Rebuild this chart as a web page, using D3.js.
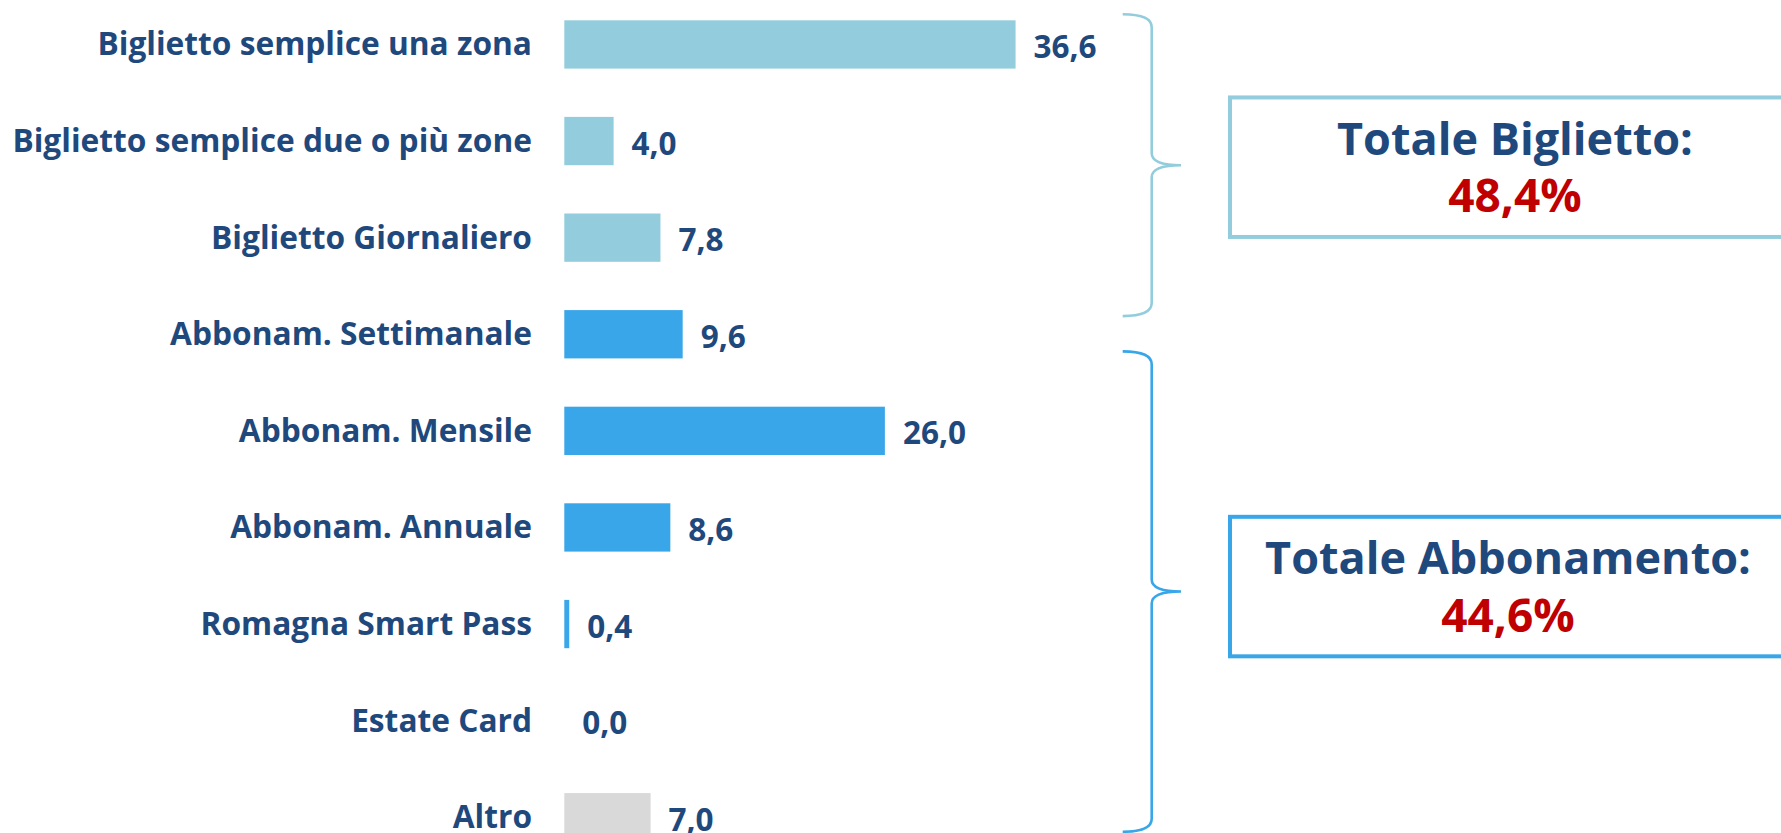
<!DOCTYPE html>
<html lang="it">
<head>
<meta charset="utf-8">
<script src="https://cdn.jsdelivr.net/npm/d3@7/dist/d3.min.js"></script>
<style>
  html, body { margin: 0; padding: 0; background: #ffffff; }
  svg { display: block; }
  text { font-family: "Open Sans", "DejaVu Sans", sans-serif; font-weight: 700; }
</style>
</head>
<body>
<svg id="chart" width="1781" height="833"></svg>
<script>
// Titoli di viaggio utilizzati (%)
const categories = [
  "Biglietto semplice una zona",
  "Biglietto semplice due o più zone",
  "Biglietto Giornaliero",
  "Abbonam. Settimanale",
  "Abbonam. Mensile",
  "Abbonam. Annuale",
  "Romagna Smart Pass",
  "Estate Card",
  "Altro"
];
const values = [36.6, 4.0, 7.8, 9.6, 26.0, 8.6, 0.4, 0.0, 7.0];
const groups = ["biglietto", "biglietto", "biglietto",
                "abbonamento", "abbonamento", "abbonamento", "abbonamento", "abbonamento",
                "altro"];

// Riquadri di riepilogo per gruppo
const totalGroups = ["biglietto", "abbonamento"];
const totalTitles = ["Totale Biglietto:", "Totale Abbonamento:"];

const colors = { biglietto: "#93CDDD", abbonamento: "#38A6E8", altro: "#D9D9D9" };
const textColor = "#1F497D";
const totalColor = "#C00000";

const it = d3.formatLocale({ decimal: ",", thousands: ".", grouping: [3], currency: ["€", ""] });
const fmt = it.format(".1f");

const svg = d3.select("#chart");

const x = d3.scaleLinear().domain([0, 40]).range([564.3, 564.3 + 40 * 12.33]);
const y = d3.scaleBand().domain(categories).range([-3.85, 865.55])
  .paddingInner(0.5).paddingOuter(0.25);
const bw = y.bandwidth();

const data = categories.map((c, i) => ({ cat: c, value: values[i], group: groups[i] }));

// Etichette di categoria
svg.append("g").selectAll("text").data(data).join("text")
  .attr("x", 532)
  .attr("y", d => y(d.cat) + bw / 2 + 11)
  .attr("text-anchor", "end")
  .attr("font-size", 31.7)
  .attr("fill", textColor)
  .text(d => d.cat);

// Barre
svg.append("g").selectAll("rect").data(data).join("rect")
  .attr("x", x(0))
  .attr("y", d => y(d.cat))
  .attr("width", d => x(d.value) - x(0))
  .attr("height", bw)
  .attr("fill", d => colors[d.group]);

// Valori
svg.append("g").selectAll("text").data(data).join("text")
  .attr("x", d => x(d.value) + 18)
  .attr("y", d => y(d.cat) + bw / 2 + 13.5)
  .attr("font-size", 31.5)
  .attr("fill", textColor)
  .text(d => fmt(d.value));

// Parentesi graffe per i gruppi
const braceX0 = 1122.7, braceXL = 1151.7, braceXT = 1181;
function bracePath(y0, y1) {
  const ym = (y0 + y1) / 2, r = 13, t = 12;
  const p = d3.path();
  p.moveTo(braceX0, y0);
  p.quadraticCurveTo(braceXL, y0, braceXL, y0 + r);
  p.lineTo(braceXL, ym - t);
  p.quadraticCurveTo(braceXL, ym, braceXT, ym);
  p.quadraticCurveTo(braceXL, ym, braceXL, ym + t);
  p.lineTo(braceXL, y1 - r);
  p.quadraticCurveTo(braceXL, y1, braceX0, y1);
  return p.toString();
}
const braceSpans = [
  [y(categories[0]) - 6, y(categories[3]) + 6],
  [y(categories[3]) + bw - 7, y(categories[8]) + bw * 0.8]
];

const boxW = 570, boxH = 139.5, boxX = 1230;
const boxShift = [2, -5];
const centerShift = [0, -7];

totalGroups.forEach((g, i) => {
  const [y0, y1] = braceSpans[i];
  const ym = (y0 + y1) / 2;
  const total = d3.sum(data.filter(d => d.group === g), d => d.value);
  svg.append("path")
    .attr("d", bracePath(y0, y1))
    .attr("fill", "none")
    .attr("stroke", colors[g])
    .attr("stroke-width", 2.6);

  const top = ym + boxShift[i] - boxH / 2;
  svg.append("rect")
    .attr("x", boxX).attr("y", top)
    .attr("width", boxW).attr("height", boxH)
    .attr("fill", "#ffffff")
    .attr("stroke", colors[g])
    .attr("stroke-width", 4);

  const cx = boxX + boxW / 2 + centerShift[i];
  svg.append("text")
    .attr("x", cx).attr("y", top + 57.5)
    .attr("text-anchor", "middle")
    .attr("font-size", 45)
    .attr("fill", textColor)
    .text(totalTitles[i]);
  svg.append("text")
    .attr("x", cx).attr("y", top + 115)
    .attr("text-anchor", "middle")
    .attr("font-size", 46)
    .attr("fill", totalColor)
    .text(fmt(total) + "%");
});
</script>
</body>
</html>
